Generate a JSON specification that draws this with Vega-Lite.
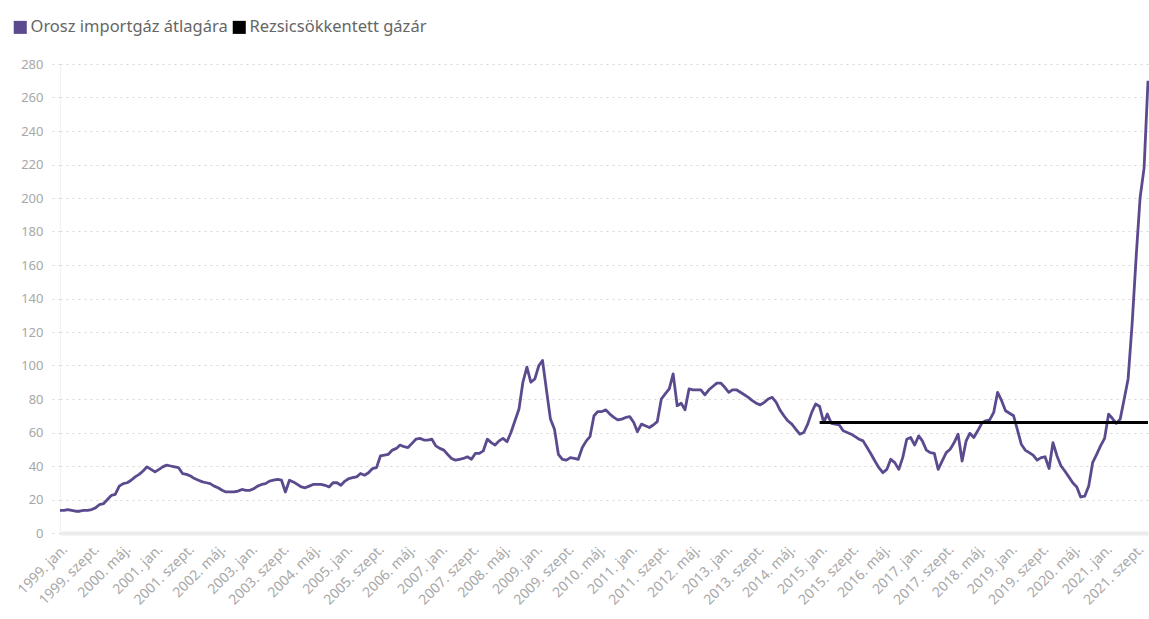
{
  "$schema": "https://vega.github.io/schema/vega-lite/v6.json",
  "width": 1088,
  "height": 469,
  "autosize": {"type": "none"},
  "padding": {"left": 60, "top": 64, "right": 1, "bottom": 86},
  "background": "white",
  "config": {"view": {"stroke": null}, "font": "Noto Sans", "axis": {"labelOverlap": false}},
  "datasets": {
    "orosz": [
      {"d":"1999-01-01","v":13.5},{"d":"1999-02-01","v":13.5},{"d":"1999-03-01","v":14},{"d":"1999-04-01","v":13.5},{"d":"1999-05-01","v":13},{"d":"1999-06-01","v":13},{"d":"1999-07-01","v":13.5},{"d":"1999-08-01","v":13.5},{"d":"1999-09-01","v":14},{"d":"1999-10-01","v":15},{"d":"1999-11-01","v":17},{"d":"1999-12-01","v":17.5},
      {"d":"2000-01-01","v":20},{"d":"2000-02-01","v":22.5},{"d":"2000-03-01","v":23},{"d":"2000-04-01","v":28},{"d":"2000-05-01","v":29.5},{"d":"2000-06-01","v":30},{"d":"2000-07-01","v":31.5},{"d":"2000-08-01","v":33.5},{"d":"2000-09-01","v":35},{"d":"2000-10-01","v":37},{"d":"2000-11-01","v":39.5},{"d":"2000-12-01","v":38},
      {"d":"2001-01-01","v":36.5},{"d":"2001-02-01","v":38},{"d":"2001-03-01","v":39.5},{"d":"2001-04-01","v":40.5},{"d":"2001-05-01","v":40},{"d":"2001-06-01","v":39.5},{"d":"2001-07-01","v":39},{"d":"2001-08-01","v":35.5},{"d":"2001-09-01","v":35},{"d":"2001-10-01","v":34},{"d":"2001-11-01","v":32.5},{"d":"2001-12-01","v":31.5},
      {"d":"2002-01-01","v":30.5},{"d":"2002-02-01","v":30},{"d":"2002-03-01","v":29.5},{"d":"2002-04-01","v":28},{"d":"2002-05-01","v":27},{"d":"2002-06-01","v":25.5},{"d":"2002-07-01","v":24.5},{"d":"2002-08-01","v":24.5},{"d":"2002-09-01","v":24.5},{"d":"2002-10-01","v":25},{"d":"2002-11-01","v":26},{"d":"2002-12-01","v":25.5},
      {"d":"2003-01-01","v":25.5},{"d":"2003-02-01","v":26.5},{"d":"2003-03-01","v":28},{"d":"2003-04-01","v":29},{"d":"2003-05-01","v":29.5},{"d":"2003-06-01","v":31},{"d":"2003-07-01","v":31.5},{"d":"2003-08-01","v":32},{"d":"2003-09-01","v":31.5},{"d":"2003-10-01","v":24.5},{"d":"2003-11-01","v":31.5},{"d":"2003-12-01","v":30.5},
      {"d":"2004-01-01","v":29},{"d":"2004-02-01","v":27.5},{"d":"2004-03-01","v":27},{"d":"2004-04-01","v":28},{"d":"2004-05-01","v":29},{"d":"2004-06-01","v":29},{"d":"2004-07-01","v":29},{"d":"2004-08-01","v":28.5},{"d":"2004-09-01","v":27.5},{"d":"2004-10-01","v":30},{"d":"2004-11-01","v":30},{"d":"2004-12-01","v":28.5},
      {"d":"2005-01-01","v":31},{"d":"2005-02-01","v":32.5},{"d":"2005-03-01","v":33},{"d":"2005-04-01","v":33.5},{"d":"2005-05-01","v":35.5},{"d":"2005-06-01","v":34.5},{"d":"2005-07-01","v":36},{"d":"2005-08-01","v":38.5},{"d":"2005-09-01","v":39},{"d":"2005-10-01","v":46},{"d":"2005-11-01","v":46.5},{"d":"2005-12-01","v":47},
      {"d":"2006-01-01","v":49.5},{"d":"2006-02-01","v":50.5},{"d":"2006-03-01","v":52.5},{"d":"2006-04-01","v":51.5},{"d":"2006-05-01","v":51},{"d":"2006-06-01","v":53.5},{"d":"2006-07-01","v":56},{"d":"2006-08-01","v":56.5},{"d":"2006-09-01","v":55.5},{"d":"2006-10-01","v":55.5},{"d":"2006-11-01","v":56},{"d":"2006-12-01","v":52},
      {"d":"2007-01-01","v":50.5},{"d":"2007-02-01","v":49.5},{"d":"2007-03-01","v":47},{"d":"2007-04-01","v":44.5},{"d":"2007-05-01","v":43.5},{"d":"2007-06-01","v":44},{"d":"2007-07-01","v":44.5},{"d":"2007-08-01","v":45.5},{"d":"2007-09-01","v":44},{"d":"2007-10-01","v":47.5},{"d":"2007-11-01","v":47.5},{"d":"2007-12-01","v":49},
      {"d":"2008-01-01","v":56},{"d":"2008-02-01","v":54},{"d":"2008-03-01","v":52.5},{"d":"2008-04-01","v":55},{"d":"2008-05-01","v":56.5},{"d":"2008-06-01","v":54.5},{"d":"2008-07-01","v":60},{"d":"2008-08-01","v":67},{"d":"2008-09-01","v":74},{"d":"2008-10-01","v":90},{"d":"2008-11-01","v":99},{"d":"2008-12-01","v":90},
      {"d":"2009-01-01","v":92},{"d":"2009-02-01","v":100},{"d":"2009-03-01","v":103},{"d":"2009-04-01","v":85},{"d":"2009-05-01","v":68},{"d":"2009-06-01","v":62},{"d":"2009-07-01","v":47},{"d":"2009-08-01","v":44},{"d":"2009-09-01","v":43.5},{"d":"2009-10-01","v":45},{"d":"2009-11-01","v":44.5},{"d":"2009-12-01","v":44},
      {"d":"2010-01-01","v":51},{"d":"2010-02-01","v":55},{"d":"2010-03-01","v":57.5},{"d":"2010-04-01","v":70},{"d":"2010-05-01","v":72.5},{"d":"2010-06-01","v":72.5},{"d":"2010-07-01","v":73.5},{"d":"2010-08-01","v":71},{"d":"2010-09-01","v":69},{"d":"2010-10-01","v":67.5},{"d":"2010-11-01","v":68},{"d":"2010-12-01","v":69},
      {"d":"2011-01-01","v":69.5},{"d":"2011-02-01","v":66},{"d":"2011-03-01","v":60.5},{"d":"2011-04-01","v":65},{"d":"2011-05-01","v":64},{"d":"2011-06-01","v":63},{"d":"2011-07-01","v":64.5},{"d":"2011-08-01","v":66.5},{"d":"2011-09-01","v":80},{"d":"2011-10-01","v":83},{"d":"2011-11-01","v":86},{"d":"2011-12-01","v":95},
      {"d":"2012-01-01","v":76},{"d":"2012-02-01","v":77.5},{"d":"2012-03-01","v":73.5},{"d":"2012-04-01","v":86},{"d":"2012-05-01","v":85.5},{"d":"2012-06-01","v":85.5},{"d":"2012-07-01","v":85.5},{"d":"2012-08-01","v":82.5},{"d":"2012-09-01","v":85.5},{"d":"2012-10-01","v":87.5},{"d":"2012-11-01","v":89.5},{"d":"2012-12-01","v":89.5},
      {"d":"2013-01-01","v":87},{"d":"2013-02-01","v":84},{"d":"2013-03-01","v":85.5},{"d":"2013-04-01","v":85.5},{"d":"2013-05-01","v":84},{"d":"2013-06-01","v":82.5},{"d":"2013-07-01","v":81},{"d":"2013-08-01","v":79},{"d":"2013-09-01","v":77.5},{"d":"2013-10-01","v":76.5},{"d":"2013-11-01","v":78},{"d":"2013-12-01","v":80},
      {"d":"2014-01-01","v":81},{"d":"2014-02-01","v":78},{"d":"2014-03-01","v":73.5},{"d":"2014-04-01","v":70},{"d":"2014-05-01","v":67},{"d":"2014-06-01","v":65},{"d":"2014-07-01","v":62},{"d":"2014-08-01","v":59},{"d":"2014-09-01","v":60},{"d":"2014-10-01","v":65},{"d":"2014-11-01","v":72},{"d":"2014-12-01","v":77},
      {"d":"2015-01-01","v":75.5},{"d":"2015-02-01","v":66},{"d":"2015-03-01","v":71},{"d":"2015-04-01","v":65.5},{"d":"2015-05-01","v":65},{"d":"2015-06-01","v":64.5},{"d":"2015-07-01","v":61},{"d":"2015-08-01","v":60},{"d":"2015-09-01","v":59},{"d":"2015-10-01","v":57.5},{"d":"2015-11-01","v":56},{"d":"2015-12-01","v":55},
      {"d":"2016-01-01","v":51},{"d":"2016-02-01","v":47},{"d":"2016-03-01","v":43},{"d":"2016-04-01","v":39},{"d":"2016-05-01","v":36},{"d":"2016-06-01","v":38},{"d":"2016-07-01","v":44},{"d":"2016-08-01","v":42},{"d":"2016-09-01","v":38},{"d":"2016-10-01","v":45},{"d":"2016-11-01","v":56},{"d":"2016-12-01","v":57},
      {"d":"2017-01-01","v":52.5},{"d":"2017-02-01","v":58},{"d":"2017-03-01","v":55},{"d":"2017-04-01","v":49.5},{"d":"2017-05-01","v":48},{"d":"2017-06-01","v":47.5},{"d":"2017-07-01","v":38},{"d":"2017-08-01","v":43},{"d":"2017-09-01","v":48},{"d":"2017-10-01","v":50},{"d":"2017-11-01","v":54},{"d":"2017-12-01","v":59},
      {"d":"2018-01-01","v":43},{"d":"2018-02-01","v":55},{"d":"2018-03-01","v":59.5},{"d":"2018-04-01","v":57},{"d":"2018-05-01","v":61},{"d":"2018-06-01","v":65.5},{"d":"2018-07-01","v":67},{"d":"2018-08-01","v":67.5},{"d":"2018-09-01","v":72},{"d":"2018-10-01","v":84},{"d":"2018-11-01","v":79},{"d":"2018-12-01","v":73},
      {"d":"2019-01-01","v":71.5},{"d":"2019-02-01","v":70},{"d":"2019-03-01","v":62},{"d":"2019-04-01","v":53},{"d":"2019-05-01","v":49.5},{"d":"2019-06-01","v":48},{"d":"2019-07-01","v":46.5},{"d":"2019-08-01","v":43.5},{"d":"2019-09-01","v":45},{"d":"2019-10-01","v":45.5},{"d":"2019-11-01","v":38.5},{"d":"2019-12-01","v":54},
      {"d":"2020-01-01","v":46},{"d":"2020-02-01","v":40},{"d":"2020-03-01","v":37},{"d":"2020-04-01","v":33.5},{"d":"2020-05-01","v":30},{"d":"2020-06-01","v":27.5},{"d":"2020-07-01","v":21.5},{"d":"2020-08-01","v":22},{"d":"2020-09-01","v":28},{"d":"2020-10-01","v":42},{"d":"2020-11-01","v":47},{"d":"2020-12-01","v":52},
      {"d":"2021-01-01","v":56.5},{"d":"2021-02-01","v":71},{"d":"2021-03-01","v":68.5},{"d":"2021-04-01","v":65.5},{"d":"2021-05-01","v":68},{"d":"2021-06-01","v":80},{"d":"2021-07-01","v":92},{"d":"2021-08-01","v":125},{"d":"2021-09-01","v":165},{"d":"2021-10-01","v":200},{"d":"2021-11-01","v":218},{"d":"2021-12-01","v":270}
    ],
    "rezsi": [
      {"d":"2015-01-01","v":66},{"d":"2021-12-01","v":66}
    ]
  },
  "layer": [
    {
      "data": {"name": "orosz"},
      "mark": {"type": "line", "strokeWidth": 2.8, "interpolate": "linear", "strokeJoin": "round"},
      "encoding": {
        "x": {
          "field": "d", "type": "temporal", "title": null,
          "scale": {"type": "utc", "nice": false, "domain": [{"year": 1999, "month": 1, "date": 1, "utc": true}, {"year": 2021, "month": 12, "date": 1, "utc": true}]},
          "axis": {
            "tickCount": 100,
            "values": [
              {"year":1999,"month":1,"date":1,"utc":true},{"year":1999,"month":9,"date":1,"utc":true},{"year":2000,"month":5,"date":1,"utc":true},
              {"year":2001,"month":1,"date":1,"utc":true},{"year":2001,"month":9,"date":1,"utc":true},{"year":2002,"month":5,"date":1,"utc":true},
              {"year":2003,"month":1,"date":1,"utc":true},{"year":2003,"month":9,"date":1,"utc":true},{"year":2004,"month":5,"date":1,"utc":true},
              {"year":2005,"month":1,"date":1,"utc":true},{"year":2005,"month":9,"date":1,"utc":true},{"year":2006,"month":5,"date":1,"utc":true},
              {"year":2007,"month":1,"date":1,"utc":true},{"year":2007,"month":9,"date":1,"utc":true},{"year":2008,"month":5,"date":1,"utc":true},
              {"year":2009,"month":1,"date":1,"utc":true},{"year":2009,"month":9,"date":1,"utc":true},{"year":2010,"month":5,"date":1,"utc":true},
              {"year":2011,"month":1,"date":1,"utc":true},{"year":2011,"month":9,"date":1,"utc":true},{"year":2012,"month":5,"date":1,"utc":true},
              {"year":2013,"month":1,"date":1,"utc":true},{"year":2013,"month":9,"date":1,"utc":true},{"year":2014,"month":5,"date":1,"utc":true},
              {"year":2015,"month":1,"date":1,"utc":true},{"year":2015,"month":9,"date":1,"utc":true},{"year":2016,"month":5,"date":1,"utc":true},
              {"year":2017,"month":1,"date":1,"utc":true},{"year":2017,"month":9,"date":1,"utc":true},{"year":2018,"month":5,"date":1,"utc":true},
              {"year":2019,"month":1,"date":1,"utc":true},{"year":2019,"month":9,"date":1,"utc":true},{"year":2020,"month":5,"date":1,"utc":true},
              {"year":2021,"month":1,"date":1,"utc":true},{"year":2021,"month":9,"date":1,"utc":true}
            ],
            "labelExpr": "utcFormat(datum.value, '%Y') + '. ' + (utcmonth(datum.value) == 0 ? 'jan.' : (utcmonth(datum.value) == 8 ? 'szept.' : 'máj.'))",
            "labelAngle": -45, "labelAlign": "right", "labelBaseline": "top",
            "labelColor": "#a8a8a8", "labelFontSize": 14, "labelPadding": 9, "labelOffset": 0,
            "labelOverlap": false, "labelBound": false, "labelFlush": false,
            "ticks": false, "grid": false,
            "domainColor": "#ececec", "domainWidth": 4
          }
        },
        "y": {
          "field": "v", "type": "quantitative", "title": null,
          "scale": {"domain": [0, 280], "nice": false},
          "axis": {
            "tickCount": 100,
            "values": [0,20,40,60,80,100,120,140,160,180,200,220,240,260,280],
            "labelOverlap": false,
            "grid": true, "gridColor": "#d6d6d6", "gridDash": [2, 4],
            "domainColor": "#f0f0f0",
            "tickSize": 12, "tickColor": "#d6d6d6", "tickDash": [2, 4],
            "labelPadding": 5, "labelColor": "#a8a8a8", "labelFontSize": 13
          }
        },
        "color": {
          "datum": "Orosz importgáz átlagára", "type": "nominal",
          "scale": {"domain": ["Orosz importgáz átlagára", "Rezsicsökkentett gázár"], "range": ["#5b4a8e", "#000000"]},
          "legend": {
            "orient": "none", "legendX": -48, "legendY": -45,
            "direction": "horizontal", "title": null,
            "symbolType": "square", "symbolSize": 170, "symbolStrokeWidth": 0,
            "labelFontSize": 16.5, "labelColor": "#666666", "labelOffset": 2, "labelLimit": 0,
            "columnPadding": 3,
            "encode": {"symbols": {"update": {"fill": {"scale": "color", "field": "value"}, "opacity": {"value": 1}}}}
          }
        }
      }
    },
    {
      "data": {"name": "rezsi"},
      "mark": {"type": "line", "strokeWidth": 3},
      "encoding": {
        "x": {"field": "d", "type": "temporal"},
        "y": {"field": "v", "type": "quantitative"},
        "color": {"datum": "Rezsicsökkentett gázár", "type": "nominal"}
      }
    }
  ]
}
